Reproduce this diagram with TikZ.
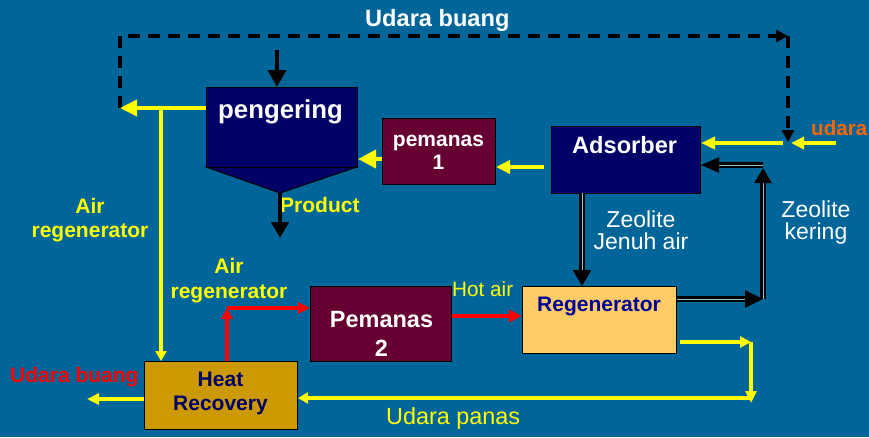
\documentclass[tikz,border=0pt]{standalone}
\usepackage{fontspec}
\setmainfont{Liberation Sans}
\usetikzlibrary{arrows.meta}
\definecolor{bg}{HTML}{006699}
\definecolor{navybox}{HTML}{000066}
\definecolor{maroonbox}{HTML}{660033}
\definecolor{regenfill}{HTML}{FFCC66}
\definecolor{hrfill}{HTML}{CC9900}
\definecolor{regentext}{HTML}{000099}
\definecolor{hrtext}{HTML}{000066}
\definecolor{orangetext}{HTML}{FF6600}
\definecolor{yel}{HTML}{FFFF00}
\definecolor{redl}{HTML}{FF0000}
\newcommand{\fsz}[2]{\fontsize{#1}{#2}\selectfont}
\begin{document}
\begin{tikzpicture}[x=1pt,y=-1pt,
  box/.style={draw=black, line width=1pt, anchor=north west, inner sep=0pt},
  txt/.style={inner sep=0pt, align=center},
  ah/.style 2 args={arrows={-{Triangle[length=#1pt,width=#2pt]}}},
  yl/.style={draw=yel, line width=4pt},
  ylt/.style={draw=yel, line width=3.4pt},
  rl/.style={draw=redl, line width=4pt},
  bl/.style={draw=black, line width=4pt},
  dbl/.style={draw=black, line width=2.2pt, double=bg!40!white, double distance=0.8pt},
  dashline/.style={draw=black, line width=4pt, dash pattern=on 12pt off 8pt}]
\fill[bg] (0,0) rectangle (869,437);
\useasboundingbox (0,0) rectangle (869,437);

% title
\node[txt, anchor=base west, text=white, font={\fsz{23.6}{26}\bfseries}] (title) at (365,26) {Udara buang};

% boxes
\fill[navybox, draw=black, line width=1pt] (206,167) -- (357,167) -- (280,193) -- cycle;
\coordinate (ftip) at (280,193);
\node[box, fill=navybox, minimum width=151pt, minimum height=80pt] (peng) at (206,87) {};
\node[txt, anchor=base west, text=white, font={\fsz{25.8}{28}\bfseries}] (pengtext) at (218,118) {pengering};
\node[box, fill=maroonbox, minimum width=113pt, minimum height=66pt] (pem1) at (382,118) {};
\node[txt, text=white, font={\fsz{21}{23}\bfseries}] (pem1text) at (438.5,152) {pemanas\\1};
\node[box, fill=navybox, minimum width=149pt, minimum height=67pt] (ads) at (551,126) {};
\node[txt, anchor=base west, text=white, font={\fsz{23.6}{26}\bfseries}] (adstext) at (572,153) {Adsorber};
\node[box, fill=regenfill, minimum width=154pt, minimum height=67pt] (regen) at (522,286) {};
\node[txt, anchor=base west, text=regentext, font={\fsz{21}{23}\bfseries}] (regentxt) at (537,311) {Regenerator};
\node[box, fill=maroonbox, minimum width=141pt, minimum height=75pt] (pem2) at (310,286) {};
\node[txt, text=white, font={\fsz{23.5}{29}\bfseries}] (pem2text) at (381.5,334) {Pemanas\\2};
\node[box, fill=hrfill, minimum width=153pt, minimum height=68pt] (hr) at (144,361) {};
\node[txt, text=hrtext, font={\fsz{21}{24}\bfseries}] (hrtxt) at (220.5,393.5) {Heat\\Recovery};

% labels
\node[txt, text=yel, font={\fsz{21}{24}\bfseries}] (airreg1) at (90,219.7) {Air\\regenerator};
\node[txt, text=yel, font={\fsz{21}{25}\bfseries}] (airreg2) at (229,280.2) {Air\\regenerator};
\node[txt, anchor=base west, text=yel, font={\fsz{21}{23}\bfseries}] (prod) at (280,212) {Product};
\node[txt, text=white, font={\fsz{23}{22}}] (zjenuh) at (641,229.8) {Zeolite\\Jenuh air};
\node[txt, text=white, font={\fsz{23}{22}}] (zkering) at (816,222.4) {Zeolite\\kering};
\node[txt, anchor=base west, text=yel, font={\fsz{20.7}{23}}] (hotair) at (452,296) {Hot air};
\node[txt, anchor=base west, text=yel, font={\fsz{23.4}{26}}] (udpanas) at (386,424) {Udara panas};
\node[txt, anchor=base west, text=redl, font={\fsz{21}{23}\bfseries}] (udbuang) at (10,382) {Udara buang};
\node[txt, anchor=base west, text=orangetext, font={\fsz{20.6}{23}\bfseries}] (udara) at (811,135) {udara};

% dashed exhaust loop
\coordinate (dL) at (120,108);
\coordinate (dTL) at (120,36);
\coordinate (dTR) at (788,36);
\coordinate (dB) at (788,142);
\draw[dashline, ah={12}{12}] (dL) -- (dTL) -- (dTR);
\draw[dashline, ah={12}{12}] (dTR) -- (dB);

% black feed into pengering
\coordinate (pIn) at (277,50);
\draw[bl, ah={17}{18}] (pIn) -- (pIn |- peng.north);
% product
\coordinate (prodEnd) at (280,238);
\draw[bl, ah={16}{17}] (ftip) -- (prodEnd);

% yellow from pengering to exhaust
\draw[yl, ah={17}{16}] (peng.west |- dL) -- (dL);
\coordinate (yJ) at (161,108);
\draw[yl, ah={10}{11}] (yJ) -- (yJ |- hr.north);

% pemanas1 -> pengering
\coordinate (a1) at (382,159);
\draw[yl, ah={18}{18}] (a1) -- (a1 -| peng.east);
% adsorber -> pemanas1
\coordinate (a2) at (544,167);
\draw[yl, ah={14}{13}] (a2) -- (a2 -| pem1.east);
% udara -> adsorber
\coordinate (a3) at (783,143);
\draw[yl, ah={14}{12}] (a3) -- (a3 -| ads.east);
\coordinate (udIn) at (836,143);
\coordinate (udOut) at (791,143);
\draw[yl, ah={13}{12}] (udIn) -- (udOut);

% zeolite loop (double lines)
\coordinate (zD) at (582,193);
\draw[dbl, ah={16}{18}] (zD) -- (zD |- regen.north);
\coordinate (kR) at (763,299);
\coordinate (kT) at (763,165);
\coordinate (kV) at (763,168);
\draw[dbl, ah={18}{17}] (regen.east |- kR) -- (kR);
\draw[dbl, ah={15}{17}] (kR) -- (kV);
\draw[dbl, ah={18}{15}] (kT) -- (kT -| ads.east);

% red air regenerator path
\coordinate (rC) at (227,308);
\draw[rl, ah={11}{11}] (rC |- hr.north) -- (rC);
\draw[rl, ah={12}{11}] (rC) -- (rC -| pem2.west);
\coordinate (rH) at (451,316);
\draw[rl, ah={13}{12}] (rH -| pem2.east) -- (rH -| regen.west);

% hot air return
\coordinate (yR) at (751,342);
\coordinate (yB) at (751,403);
\coordinate (yB2) at (751,398);
\draw[ylt, ah={11}{11}] ([xshift=3pt]regen.east |- yR) -- (yR);
\draw[ylt, ah={12}{11}] (yR) -- (yB);
\draw[ylt, ah={10}{11}] (yB2) -- (yB2 -| hr.east);
\coordinate (hrOut) at (87,399);
\draw[ylt, ah={12}{11}] (hr.west |- hrOut) -- (hrOut);
\end{tikzpicture}
\end{document}
